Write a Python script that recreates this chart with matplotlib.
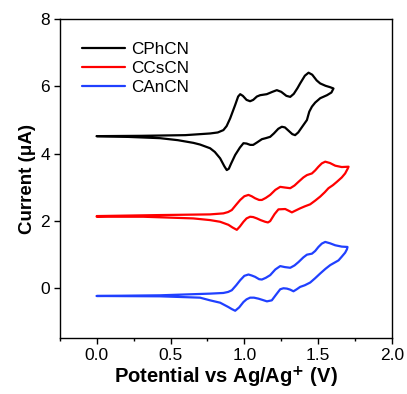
import matplotlib
matplotlib.use("Agg")
import matplotlib.pyplot as plt
from matplotlib.ticker import MultipleLocator

plt.rcParams['font.family'] = ['Liberation Sans', 'DejaVu Sans']

# ---- data (closed CV loops: forward scan then reverse) ----
series_names = ["CPhCN", "CCsCN", "CAnCN"]
series_colors = ["#000000", "#ff0000", "#2040ff"]

cphcn_potential = [0.0, 0.3, 0.6, 0.768, 0.82, 0.858, 0.88, 0.904, 0.938, 0.958, 0.972, 0.99,
                   1.015, 1.039, 1.06, 1.085, 1.107, 1.152, 1.19, 1.220, 1.25, 1.285, 1.311,
                   1.335, 1.36, 1.378, 1.41, 1.435, 1.46, 1.49, 1.514, 1.55, 1.58, 1.604,
                   1.59, 1.56, 1.514, 1.48, 1.458, 1.44, 1.424, 1.392, 1.365, 1.344, 1.325,
                   1.30, 1.275, 1.254, 1.23, 1.20, 1.175, 1.145, 1.119, 1.085, 1.06, 1.04,
                   1.015, 0.994, 0.97, 0.938, 0.91, 0.895, 0.881, 0.865, 0.836, 0.80, 0.768,
                   0.70, 0.655, 0.55, 0.429, 0.20, 0.0]
cphcn_current = [4.52, 4.53, 4.55, 4.60, 4.63, 4.70, 4.82, 5.05, 5.45, 5.70, 5.77, 5.72,
                 5.60, 5.56, 5.60, 5.70, 5.74, 5.77, 5.84, 5.89, 5.84, 5.72, 5.69,
                 5.78, 5.95, 6.09, 6.32, 6.41, 6.35, 6.18, 6.09, 6.02, 5.98, 5.94,
                 5.82, 5.74, 5.65, 5.52, 5.40, 5.25, 5.00, 4.80, 4.63, 4.55, 4.58,
                 4.68, 4.78, 4.80, 4.74, 4.60, 4.50, 4.46, 4.43, 4.33, 4.26, 4.26,
                 4.30, 4.31, 4.18, 3.96, 3.70, 3.55, 3.51, 3.62, 3.86, 4.05, 4.16,
                 4.27, 4.32, 4.40, 4.46, 4.50, 4.52]

ccscn_potential = [0.0, 0.429, 0.768, 0.858, 0.89, 0.915, 0.945, 0.972, 1.00, 1.028, 1.05,
                   1.073, 1.10, 1.119, 1.145, 1.175, 1.21, 1.243, 1.275, 1.311, 1.34, 1.367,
                   1.40, 1.424, 1.458, 1.48, 1.502, 1.525, 1.548, 1.58, 1.616, 1.66, 1.706,
                   1.70, 1.683, 1.66, 1.627, 1.60, 1.570, 1.545, 1.514, 1.48, 1.446, 1.41,
                   1.378, 1.345, 1.322, 1.30, 1.277, 1.231, 1.205, 1.175, 1.16, 1.141, 1.11,
                   1.085, 1.06, 1.039, 1.015, 0.994, 0.97, 0.949, 0.92, 0.892, 0.836, 0.768,
                   0.655, 0.316, 0.0]
ccscn_current = [2.14, 2.17, 2.19, 2.22, 2.26, 2.32, 2.48, 2.62, 2.73, 2.77, 2.73,
                 2.67, 2.62, 2.62, 2.68, 2.77, 2.92, 3.01, 2.99, 2.97, 3.05, 3.16,
                 3.29, 3.36, 3.41, 3.50, 3.61, 3.71, 3.76, 3.72, 3.64, 3.60, 3.61,
                 3.55, 3.41, 3.29, 3.16, 3.06, 2.97, 2.85, 2.72, 2.60, 2.49, 2.43,
                 2.37, 2.30, 2.25, 2.30, 2.35, 2.34, 2.20, 1.99, 1.95, 1.97, 2.02,
                 2.07, 2.11, 2.12, 2.07, 1.97, 1.83, 1.73, 1.80, 1.88, 1.97, 2.02,
                 2.07, 2.12, 2.12]

canacn_potential = [0.0, 0.429, 0.768, 0.858, 0.89, 0.915, 0.945, 0.972, 1.00, 1.028, 1.05,
                    1.073, 1.10, 1.119, 1.145, 1.175, 1.21, 1.243, 1.275, 1.311, 1.34, 1.367,
                    1.40, 1.424, 1.458, 1.48, 1.502, 1.525, 1.548, 1.58, 1.616, 1.66, 1.699,
                    1.695, 1.683, 1.66, 1.638, 1.61, 1.582, 1.55, 1.514, 1.48, 1.446, 1.41,
                    1.378, 1.355, 1.333, 1.31, 1.288, 1.265, 1.243, 1.215, 1.186, 1.153, 1.125,
                    1.096, 1.065, 1.039, 1.015, 0.994, 0.965, 0.938, 0.915, 0.892, 0.836, 0.768,
                    0.700, 0.429, 0.0]
canacn_current = [-0.24, -0.22, -0.17, -0.15, -0.12, -0.07, 0.08, 0.23, 0.36, 0.40, 0.37,
                  0.33, 0.26, 0.25, 0.30, 0.38, 0.55, 0.65, 0.62, 0.60, 0.67, 0.77,
                  0.91, 0.99, 1.02, 1.10, 1.22, 1.32, 1.37, 1.33, 1.27, 1.23, 1.22,
                  1.15, 1.05, 0.93, 0.82, 0.75, 0.68, 0.57, 0.43, 0.29, 0.16, 0.08,
                  0.03, -0.04, -0.10, -0.05, -0.02, -0.01, -0.04, -0.20, -0.37, -0.40, -0.36,
                  -0.32, -0.29, -0.29, -0.34, -0.42, -0.58, -0.68, -0.63, -0.57, -0.44, -0.37,
                  -0.29, -0.25, -0.24]

x_ticks = [0.0, 0.5, 1.0, 1.5, 2.0]
y_ticks = [0, 2, 4, 6, 8]

fig = plt.figure(figsize=(4.07, 3.94), dpi=100)
ax = fig.add_axes([0.147, 0.1414, 0.963 - 0.147, 0.951 - 0.1414])

data = [(cphcn_potential, cphcn_current),
        (ccscn_potential, ccscn_current),
        (canacn_potential, canacn_current)]
for (xs, ys), name, col in zip(data, series_names, series_colors):
    ax.plot(xs, ys, color=col, lw=1.6, label=name,
            solid_joinstyle='round', solid_capstyle='round')

ax.set_xlim(-0.25, 2.0)
ax.set_ylim(-1.5, 8.0)
ax.set_xticks(x_ticks)
ax.set_xticklabels([f"{t:.1f}" for t in x_ticks])
ax.set_yticks(y_ticks)
ax.xaxis.set_minor_locator(MultipleLocator(0.25))
ax.tick_params(axis='both', which='major', direction='out', length=4, width=1,
               labelsize=12.5, top=False, right=False, pad=3)
ax.tick_params(axis='x', which='minor', direction='out', length=2.5, width=1)
for sp in ax.spines.values():
    sp.set_linewidth(1)

ax.set_xlabel("Potential vs Ag/Ag$^{\\mathbf{+}}$ (V)", fontsize=14.5, fontweight='bold', labelpad=1)
ax.set_ylabel("Current (\u03bcA)", fontsize=13.5, fontweight='bold', labelpad=3)

leg = ax.legend(loc='upper left', bbox_to_anchor=(0.0, 1.0), frameon=False,
                fontsize=12.3, handlelength=2.5, handletextpad=0.35,
                labelspacing=0.25, borderaxespad=0.9)

fig.savefig("out.png", dpi=100)
